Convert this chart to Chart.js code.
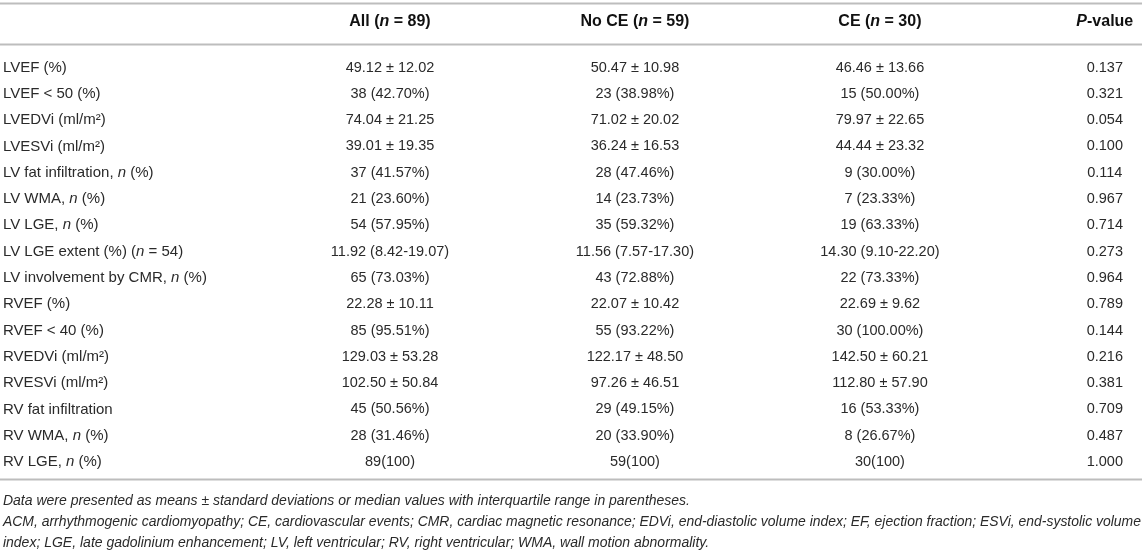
<!DOCTYPE html>
<html>
<head>
<meta charset="utf-8">
<script src="https://cdn.jsdelivr.net/npm/chart.js@4/dist/chart.umd.min.js"></script>
<style>
  html, body { margin: 0; padding: 0; background: #fff; }
  #wrap { width: 1144px; height: 551px; }
</style>
</head>
<body>
<div id="wrap"><canvas id="tbl" width="1144" height="551"></canvas></div>
<script>
// *x* marks an italic run
const columnHeaders = ['All (*n* = 89)', 'No CE (*n* = 59)', 'CE (*n* = 30)', '*P*-value'];

const rowLabels = [
  'LVEF (%)', 'LVEF < 50 (%)', 'LVEDVi (ml/m²)', 'LVESVi (ml/m²)',
  'LV fat infiltration, *n* (%)', 'LV WMA, *n* (%)', 'LV LGE, *n* (%)',
  'LV LGE extent (%) (*n* = 54)', 'LV involvement by CMR, *n* (%)',
  'RVEF (%)', 'RVEF < 40 (%)', 'RVEDVi (ml/m²)', 'RVESVi (ml/m²)',
  'RV fat infiltration', 'RV WMA, *n* (%)', 'RV LGE, *n* (%)'
];

const allValues = [
  '49.12 ± 12.02', '38 (42.70%)', '74.04 ± 21.25', '39.01 ± 19.35',
  '37 (41.57%)', '21 (23.60%)', '54 (57.95%)', '11.92 (8.42-19.07)',
  '65 (73.03%)', '22.28 ± 10.11', '85 (95.51%)', '129.03 ± 53.28',
  '102.50 ± 50.84', '45 (50.56%)', '28 (31.46%)', '89(100)'
];

const noCeValues = [
  '50.47 ± 10.98', '23 (38.98%)', '71.02 ± 20.02', '36.24 ± 16.53',
  '28 (47.46%)', '14 (23.73%)', '35 (59.32%)', '11.56 (7.57-17.30)',
  '43 (72.88%)', '22.07 ± 10.42', '55 (93.22%)', '122.17 ± 48.50',
  '97.26 ± 46.51', '29 (49.15%)', '20 (33.90%)', '59(100)'
];

const ceValues = [
  '46.46 ± 13.66', '15 (50.00%)', '79.97 ± 22.65', '44.44 ± 23.32',
  '9 (30.00%)', '7 (23.33%)', '19 (63.33%)', '14.30 (9.10-22.20)',
  '22 (73.33%)', '22.69 ± 9.62', '30 (100.00%)', '142.50 ± 60.21',
  '112.80 ± 57.90', '16 (53.33%)', '8 (26.67%)', '30(100)'
];

const pValues = [
  '0.137', '0.321', '0.054', '0.100', '0.114', '0.967', '0.714', '0.273',
  '0.964', '0.789', '0.144', '0.216', '0.381', '0.709', '0.487', '1.000'
];

const footnotes = [
  'Data were presented as means ± standard deviations or median values with interquartile range in parentheses.',
  'ACM, arrhythmogenic cardiomyopathy; CE, cardiovascular events; CMR, cardiac magnetic resonance; EDVi, end-diastolic volume index; EF, ejection fraction; ESVi, end-systolic volume',
  'index; LGE, late gadolinium enhancement; LV, left ventricular; RV, right ventricular; WMA, wall motion abnormality.'
];

// layout (scale units: x = column slot, y = row slot)
const colSlots = [0, 1, 2, 2.918];
const labelSlot = -1.58;
const headerRow = -1.73;
const ruleRows = [-2.45, -0.894, 15.65];
const footRows = [16.5, 17.3, 18.08];

const FAMILY = '"Liberation Sans", Arial, Helvetica, sans-serif';

function splitRuns(s) {
  return s.split('*').map((t, i) => ({ text: t, italic: i % 2 === 1 })).filter(r => r.text.length);
}

function drawRich(ctx, s, x, y, opts) {
  const runs = splitRuns(s);
  const font = (it) => `${it ? 'italic ' : ''}${opts.bold ? 'bold ' : ''}${opts.size}px ${FAMILY}`;
  let total = 0;
  runs.forEach(r => { ctx.font = font(r.italic); r.w = ctx.measureText(r.text).width; total += r.w; });
  let cx = opts.align === 'center' ? x - total / 2 : x;
  ctx.textAlign = 'left';
  ctx.textBaseline = 'middle';
  ctx.fillStyle = opts.color;
  runs.forEach(r => { ctx.font = font(r.italic); ctx.fillText(r.text, cx, y); cx += r.w; });
}

const columns = [allValues, noCeValues, ceValues, pValues];

const tablePlugin = {
  id: 'tableCells',
  afterDatasetsDraw(chart) {
    const xs = chart.scales.x;
    const ys = chart.scales.y;
    const ctx = chart.ctx;
    ctx.save();

    // rules
    ctx.strokeStyle = '#bdbdbd';
    ctx.lineWidth = 1.8;
    ruleRows.forEach(r => {
      const y = Math.round(ys.getPixelForValue(r)) + 0.5;
      ctx.beginPath();
      ctx.moveTo(xs.left, y);
      ctx.lineTo(xs.right - 2, y);
      ctx.stroke();
    });

    // header
    const hy = ys.getPixelForValue(headerRow);
    columnHeaders.forEach((h, c) => {
      drawRich(ctx, h, xs.getPixelForValue(colSlots[c]), hy, { size: 16, bold: true, align: 'center', color: '#111' });
    });

    // row labels
    const lx = xs.getPixelForValue(labelSlot);
    rowLabels.forEach((lab, i) => {
      drawRich(ctx, lab, lx, ys.getPixelForValue(i), { size: 15, align: 'left', color: '#2a2a2a' });
    });

    // cells, placed at each dataset point
    chart.data.datasets.forEach((ds, c) => {
      const meta = chart.getDatasetMeta(c);
      meta.data.forEach((pt, i) => {
        drawRich(ctx, columns[c][i], pt.x, pt.y, { size: 14.5, align: 'center', color: '#2a2a2a' });
      });
    });

    // footnotes
    ctx.fillStyle = '#2a2a2a';
    ctx.textAlign = 'left';
    ctx.textBaseline = 'middle';
    ctx.font = `italic 14px ${FAMILY}`;
    footnotes.forEach((t, k) => {
      ctx.fillText(t, lx, ys.getPixelForValue(footRows[k]), xs.right - lx - 3);
    });

    ctx.restore();
  }
};

const datasets = columns.map((vals, c) => ({
  label: columnHeaders[c],
  data: vals.map((v, i) => ({ x: colSlots[c], y: i })),
  pointRadius: 0,
  showLine: false
}));

new Chart(document.getElementById('tbl').getContext('2d'), {
  type: 'scatter',
  data: { datasets },
  options: {
    responsive: false,
    animation: false,
    devicePixelRatio: 1,
    layout: { padding: 0 },
    scales: {
      x: { type: 'linear', min: -1.592, max: 3.078, display: false },
      y: { type: 'linear', min: -2.567, max: 18.384, reverse: true, display: false }
    },
    plugins: {
      legend: { display: false },
      tooltip: { enabled: false }
    }
  },
  plugins: [tablePlugin]
});
</script>
</body>
</html>
